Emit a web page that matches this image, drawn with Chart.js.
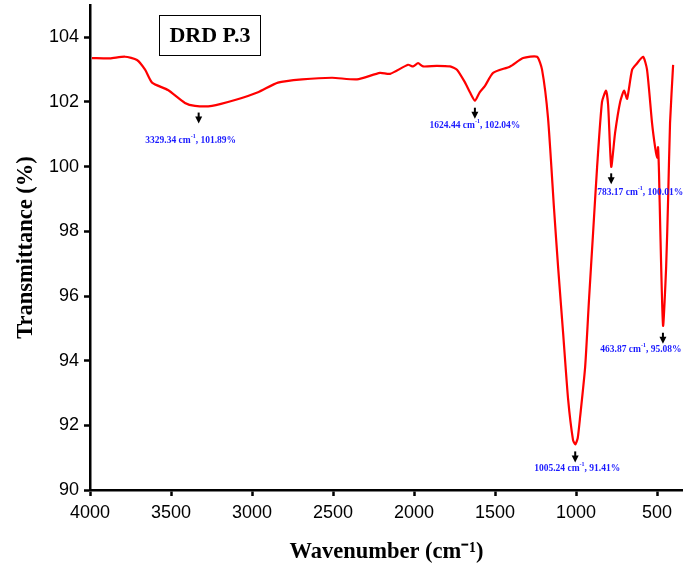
<!doctype html>
<html lang="en">
  <head>
    <meta charset="utf-8">
    <title>DRD P.3 | FTIR</title>
    <script src="https://cdn.jsdelivr.net/npm/chart.js@4"></script>
    <style>
      html, body { margin: 0; padding: 0; background: #fff; }
      #wrap { position: relative; width: 683px; height: 573px; }
    </style>
  </head>
  <body>
    <div id="wrap"><canvas id="chart0"></canvas></div>

    <script>
      // spectrum (cm-1 / %T)
      const wavenumbers = [3988, 3877, 3784, 3710, 3660, 3617, 3519, 3414, 3352, 3247, 3105, 2963, 2840, 2691, 2506,
        2352, 2210, 2148, 2037, 2006, 1975, 1944, 1860, 1778, 1735, 1685, 1655, 1624, 1595, 1562, 1512, 1407, 1327, 1241,
        1210, 1173, 1136, 1111, 1080, 1049, 1019, 1005, 990, 975, 944, 920, 895, 870, 840, 815, 802, 783, 759, 728,
        704, 685, 654, 623, 586, 562, 531, 512, 500, 494, 488, 480, 463, 444, 432, 420, 401];
      const transmittance = [103.36, 103.35, 103.4, 103.3, 103.0, 102.6, 102.37, 101.97, 101.88, 101.88, 102.06, 102.3, 102.6, 102.7, 102.75,
        102.7, 102.9, 102.87, 103.15, 103.1, 103.2, 103.1, 103.12, 103.1, 103.0, 102.6, 102.3, 102.04, 102.3, 102.5, 102.9, 103.1, 103.36, 103.4,
        103.0, 101.5, 98.7, 96.9, 94.86, 92.8, 91.55, 91.41, 91.6, 92.26, 93.8, 95.9, 97.95, 100.0, 102.0, 102.35, 101.9, 100.0, 101.05, 102.0,
        102.35, 102.1, 103.0, 103.2, 103.4, 103.0, 101.35, 100.6, 100.27, 100.6, 99.8, 98.0, 95.08, 96.9, 98.97, 101.35, 103.15];

      const xTicks = [4000, 3500, 3000, 2500, 2000, 1500, 1000, 500];
      const yTicks = [90, 92, 94, 96, 98, 100, 102, 104];

      // marked peaks
      const peakWn = [3329.34, 1624.44, 1005.24, 783.17, 463.87];
      const peakT = [101.89, 102.04, 91.41, 100.01, 95.08];
      const peakLabels = ["3329.34", "1624.44", "1005.24", "783.17", "463.87"];

      const points = wavenumbers.map((w, i) => ({ x: w, y: transmittance[i] }));

      // label offsets from the peak point, px
      const labelDx = [-8, 0, 2, 29, -22];
      const labelDy = [35, 25, 24, 26, 24];

      const peakMarks = {
        id: "peakMarks",
        afterDatasetsDraw(chart) {
          const { ctx, scales: { x, y } } = chart;
          ctx.save();
          for (let i = 0; i < peakWn.length; ++i) {
            const px = x.getPixelForValue(peakWn[i]);
            const py = y.getPixelForValue(peakT[i]);
            // little black arrow under the peak
            ctx.fillStyle = "#000";
            ctx.fillRect(px - 1, py + 7, 2, 5);
            ctx.beginPath();
            ctx.moveTo(px - 3.5, py + 11);
            ctx.lineTo(px + 3.5, py + 11);
            ctx.lineTo(px, py + 18);
            ctx.closePath();
            ctx.fill();

            // blue label with superscript -1
            const a = peakLabels[i] + " cm";
            const sup = "-1";
            const b = ", " + peakT[i].toFixed(2) + "%";
            const f = "bold 9.5px 'Liberation Serif'";
            const fs = "bold 6px 'Liberation Serif'";
            ctx.font = f;
            const wa = ctx.measureText(a).width;
            const wb = ctx.measureText(b).width;
            ctx.font = fs;
            const ws = ctx.measureText(sup).width;
            let lx = px + labelDx[i] - (wa + ws + wb) / 2;
            const ly = py + labelDy[i];
            ctx.fillStyle = "#1a1aff";
            ctx.textBaseline = "middle";
            ctx.textAlign = "left";
            ctx.font = f;
            ctx.fillText(a, lx, ly);
            ctx.font = fs;
            ctx.fillText(sup, lx + wa, ly - 4);
            ctx.font = f;
            ctx.fillText(b, lx + wa + ws, ly);
          }

          // sample name box
          ctx.strokeStyle = "#000";
          ctx.lineWidth = 1;
          ctx.strokeRect(159.5, 15.5, 101, 40);
          ctx.fillStyle = "#000";
          ctx.font = "bold 22px 'Liberation Serif'";
          ctx.textAlign = "center";
          ctx.textBaseline = "middle";
          ctx.fillText("DRD P.3", 210, 36);
          ctx.restore();
        }
      };

      new Chart(document.getElementById("chart0").getContext("2d"), {
        type: "line",
        data: {
          datasets: [{
            data: points,
            borderColor: "#ff0000",
            borderWidth: 2.2,
            pointRadius: 0,
            tension: 0.2,
            fill: false
          }]
        },
        options: {
          responsive: true,
          maintainAspectRatio: false,
          animation: false,
          events: [],
          layout: { padding: { top: 5, right: 0, left: 0, bottom: 0 } },
          plugins: { legend: { display: false }, tooltip: { enabled: false } },
          scales: {
            x: {
              type: "linear",
              reverse: true,
              min: 340,
              max: 4000,
              afterFit: s => { s.height = 83; s.paddingLeft = 0; s.paddingRight = 0; },
              afterBuildTicks: s => { s.ticks = xTicks.map(v => ({ value: v })); },
              border: { display: true, color: "#000", width: 2.5 },
              grid: { drawOnChartArea: false, drawTicks: true, tickLength: 6, tickWidth: 2.5, tickColor: "#000" },
              ticks: { color: "#000", padding: 6, maxRotation: 0, callback: v => String(v), font: { family: "'Liberation Sans'", size: 18 } },
              title: {
                display: true,
                text: "Wavenumber (cm\u207B\u00B9)",
                color: "#000",
                padding: { top: 0, bottom: 7 },
                font: { family: "'Liberation Serif'", size: 22.5, weight: "bold" }
              }
            },
            y: {
              type: "linear",
              min: 90,
              max: 105,
              afterFit: s => { s.width = 90; s.paddingTop = 0; s.paddingBottom = 0; },
              afterBuildTicks: s => { s.ticks = yTicks.map(v => ({ value: v })); },
              border: { display: true, color: "#000", width: 2.5 },
              grid: { drawOnChartArea: false, drawTicks: true, tickLength: 6, tickWidth: 2.5, tickColor: "#000" },
              ticks: { color: "#000", padding: 5, callback: v => String(v), font: { family: "'Liberation Sans'", size: 18 } },
              title: {
                display: true,
                text: "Transmittance (%)",
                color: "#000",
                padding: { top: 13, bottom: 0 },
                font: { family: "'Liberation Serif'", size: 22.5, weight: "bold" }
              }
            }
          }
        },
        plugins: [peakMarks]
      });
    </script>
  </body>
</html>
